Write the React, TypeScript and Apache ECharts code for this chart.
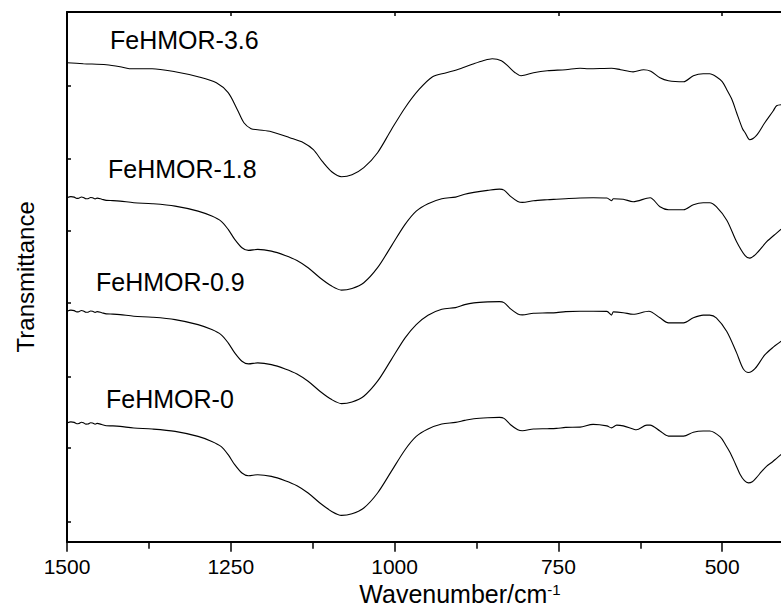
import React, { useEffect, useRef } from "react";
import * as echarts from "echarts";

// Wavenumber (cm-1) / transmittance (a.u., stacked offsets)
const FEHMOR_36: [number, number][] = [
  [1500,479],[1475,478],[1440,477],[1419,475],[1405,473],[1398,473],[1370,473],[1335,470],[1300,465],[1272,459],
  [1254,449],[1240,432],[1230,419],[1219,413],[1209,412],[1188,410],[1160,404],[1139,399],[1124,392],[1110,380],
  [1096,370],[1081,365],[1065,367],[1047,374],[1026,389],[1005,412],[984,434],[963,452],[942,465],[921,469],
  [900,473],[879,478],[865,481],[851,483],[837,481],[826,475],[816,469],[807,466],[788,469],[767,471],
  [739,472],[717,473.5],[704,473],[669,473.5],[655,472],[636,469.8],[620,472],[609,470.5],[595,464],[582,461],
  [559,460],[544,466],[529,468],[519,468],[509,465],[500,460],[493,452],[485,442],[478,429],[469,413],
  [465,409],[458,402],[448,406],[435,419],[422,431],[417,436],[410,437]
];

const FEHMOR_18: [number, number][] = [
  [1500,344.0],[1494,345.1],[1489,344.6],[1485,343.3],[1482,343.5],[1478,344.7],[1475,344.3],[1471,342.9],[1468,343.0],[1464,344.2],
  [1461,344.0],[1457,342.8],[1454,343.6],[1447,342.5],[1440,341.3],[1430,341.1],[1419,340.6],[1398,339.0],[1370,338.0],[1335,335.6],
  [1300,330.6],[1279,325.6],[1265,320.6],[1254,312.3],[1244,302.3],[1233,294.0],[1223,291.3],[1209,292.3],[1188,290.6],[1167,286.3],
  [1149,281.3],[1132,274.0],[1114,264.0],[1096,255.6],[1081,251.6],[1065,253.3],[1047,259.0],[1026,274.0],[1005,295.6],[984,317.3],
  [967,330.6],[949,338.0],[928,343.0],[907,344.6],[893,347.5],[879,349.3],[858,351.3],[840,352.6],[833,351.6],[823,345.3],
  [812,340.3],[805,339.3],[788,341.0],[767,342.0],[753,342.5],[739,343.0],[717,343.7],[697,344.0],[676,343.7],[669,341.0],
  [666,343.0],[651,342.5],[636,340.0],[615,343.5],[610,344.0],[595,335.0],[582,332.0],[559,332.0],[544,337.0],[529,339.0],
  [519,339.0],[509,335.0],[493,321.5],[478,300.0],[465,286.0],[458,283.6],[448,288.0],[432,300.0],[417,308.6],[410,312.5]
];

const FEHMOR_09: [number, number][] = [
  [1500,230.5],[1494,231.6],[1489,231.1],[1485,229.8],[1482,230.0],[1478,231.2],[1475,230.8],[1471,229.4],[1468,229.5],[1464,230.7],
  [1461,230.5],[1457,229.3],[1454,230.1],[1447,229.0],[1440,227.8],[1430,227.6],[1419,227.1],[1398,225.5],[1370,224.5],[1335,222.1],
  [1300,217.1],[1279,212.1],[1265,207.1],[1254,198.8],[1244,188.8],[1233,180.5],[1223,177.8],[1209,178.8],[1188,177.1],[1167,172.8],
  [1149,167.8],[1132,160.5],[1114,150.5],[1096,142.1],[1081,138.1],[1065,139.8],[1047,145.5],[1026,160.5],[1005,182.1],[984,203.8],
  [967,217.1],[949,226.5],[928,232.5],[907,234.1],[893,237.1],[879,238.8],[858,239.8],[840,240.1],[833,239.1],[823,232.8],
  [812,227.8],[805,226.8],[788,228.5],[767,228.8],[753,229.1],[739,230.1],[717,230.5],[697,230.5],[676,230.3],[669,226.6],
  [666,229.8],[651,229.0],[636,227.4],[612,230.5],[595,223.9],[582,218.8],[559,218.8],[544,223.9],[529,226.6],[519,226.6],
  [509,223.9],[493,210.2],[478,188.8],[468,173.0],[460,169.2],[450,173.0],[435,186.8],[422,194.6],[410,200.5]
];

const FEHMOR_0: [number, number][] = [
  [1500,118.7],[1494,119.8],[1489,119.3],[1485,118.0],[1482,118.2],[1478,119.4],[1475,119.0],[1471,117.6],[1468,117.7],[1464,118.9],
  [1461,118.7],[1457,117.5],[1454,118.3],[1447,117.2],[1440,116.0],[1430,115.8],[1419,115.3],[1398,113.7],[1370,112.7],[1335,110.3],
  [1300,105.3],[1279,100.3],[1265,95.3],[1254,87.0],[1244,77.0],[1233,68.7],[1223,66.0],[1209,67.0],[1188,65.3],[1167,61.0],
  [1149,56.0],[1132,48.7],[1114,38.7],[1096,30.3],[1081,26.3],[1065,28.0],[1047,33.7],[1026,48.7],[1005,70.3],[984,92.0],
  [967,105.3],[949,112.7],[928,117.7],[907,119.3],[893,121.3],[879,123.0],[858,124.0],[840,124.3],[833,123.3],[823,117.0],
  [812,112.0],[805,111.0],[788,112.7],[767,113.0],[753,113.3],[739,114.3],[717,114.6],[697,117.3],[676,115.8],[669,113.8],
  [661,116.6],[651,115.8],[636,112.7],[631,111.9],[615,116.6],[610,116.6],[595,110.7],[582,105.6],[559,105.6],[544,109.5],
  [529,110.7],[519,110.7],[503,104.8],[495,97.0],[488,89.2],[480,78.0],[473,67.8],[466,61.0],[460,58.8],[454,60.0],
  [448,63.9],[440,70.0],[432,75.6],[423,80.0],[417,83.4],[410,87.3]
];

const SAMPLE_NAMES = ["FeHMOR-3.6", "FeHMOR-1.8", "FeHMOR-0.9", "FeHMOR-0"];
const SAMPLE_DATA = [FEHMOR_36, FEHMOR_18, FEHMOR_09, FEHMOR_0];
const X_TICK_LABELS = [1500, 1250, 1000, 750, 500];
const Y_TICKS = [20, 93.7, 165, 238.7, 310.7, 383.4, 456];
const X_TITLE = "Wavenumber/cm";
const X_TITLE_SUP = "-1";
const Y_TITLE = "Transmittance";

const FONT = "'Liberation Sans', Arial, Helvetica, sans-serif";
const LABEL_POS = [
  [110, 40],
  [108, 169],
  [96, 282],
  [106, 399],
];

export default function App() {
  const ref = useRef<HTMLDivElement>(null);
  useEffect(() => {
    if (!ref.current) return;
    const chart = echarts.init(ref.current, null, { renderer: "svg" });
    const axisLineStyle = { color: "#000", width: 2 };
    chart.setOption({
      animation: false,
      backgroundColor: "#fff",
      grid: { left: 67, right: 14, top: 12, bottom: 70.3, containLabel: false },
      xAxis: [
        {
          type: "value",
          position: "bottom",
          min: 250,
          max: 1500,
          interval: 250,
          inverse: true,
          axisLine: { show: true, onZero: false, lineStyle: axisLineStyle },
          axisTick: { show: true, inside: false, length: 10, lineStyle: { color: "#000", width: 1.5 } },
          minorTick: { show: true, splitNumber: 2, length: 7, lineStyle: { color: "#000", width: 1.5 } },
          splitLine: { show: false },
          minorSplitLine: { show: false },
          axisLabel: {
            color: "#000",
            fontSize: 21,
            fontFamily: FONT,
            margin: 14,
            formatter: (v: number) => (X_TICK_LABELS.indexOf(v) >= 0 ? String(v) : ""),
          },
          name: `{a|${X_TITLE}}{b|${X_TITLE_SUP}}`,
          nameLocation: "middle",
          nameGap: 38,
          nameTextStyle: {
            padding: [0, 33, 0, 0],
            rich: {
              a: { fontSize: 25, fontFamily: FONT, color: "#000" },
              b: { fontSize: 15, fontFamily: FONT, color: "#000", verticalAlign: "top" },
            },
          },
        },
        {
          type: "value",
          position: "top",
          min: 250,
          max: 1500,
          interval: 250,
          inverse: true,
          axisLine: { show: true, onZero: false, lineStyle: axisLineStyle },
          axisTick: { show: true, inside: true, length: 4, lineStyle: { color: "#000", width: 1.5 } },
          minorTick: { show: false },
          splitLine: { show: false },
          axisLabel: { show: false },
        },
      ],
      yAxis: {
        type: "value",
        min: 0,
        max: 529.7,
        axisLine: { show: true, onZero: false, lineStyle: axisLineStyle },
        axisTick: { show: true, inside: true, length: 4, customValues: Y_TICKS, lineStyle: { color: "#000", width: 1.5 } },
        axisLabel: { show: false },
        splitLine: { show: false },
        name: Y_TITLE,
        nameLocation: "middle",
        nameGap: 30,
        nameTextStyle: { fontSize: 24, fontFamily: FONT, color: "#000" },
      },
      series: SAMPLE_DATA.map((d, i) => ({
        name: SAMPLE_NAMES[i],
        type: "line",
        xAxisIndex: 0,
        data: d,
        showSymbol: false,
        symbol: "none",
        smooth: 0.3,
        lineStyle: { color: "#000", width: 1.1 },
        silent: true,
      })),
      graphic: SAMPLE_NAMES.map((n, i) => ({
        type: "text",
        x: LABEL_POS[i][0],
        y: LABEL_POS[i][1],
        silent: true,
        style: { text: n, fontSize: 25, fontFamily: FONT, fill: "#000", verticalAlign: "middle", align: "left" },
      })),
    });
    return () => chart.dispose();
  }, []);
  return (
    <div style={{ position: "absolute", left: 0, top: 0, width: 781, height: 612, overflow: "hidden", background: "#fff" }}>
      <div ref={ref} style={{ width: 900, height: 612 }} />
    </div>
  );
}
